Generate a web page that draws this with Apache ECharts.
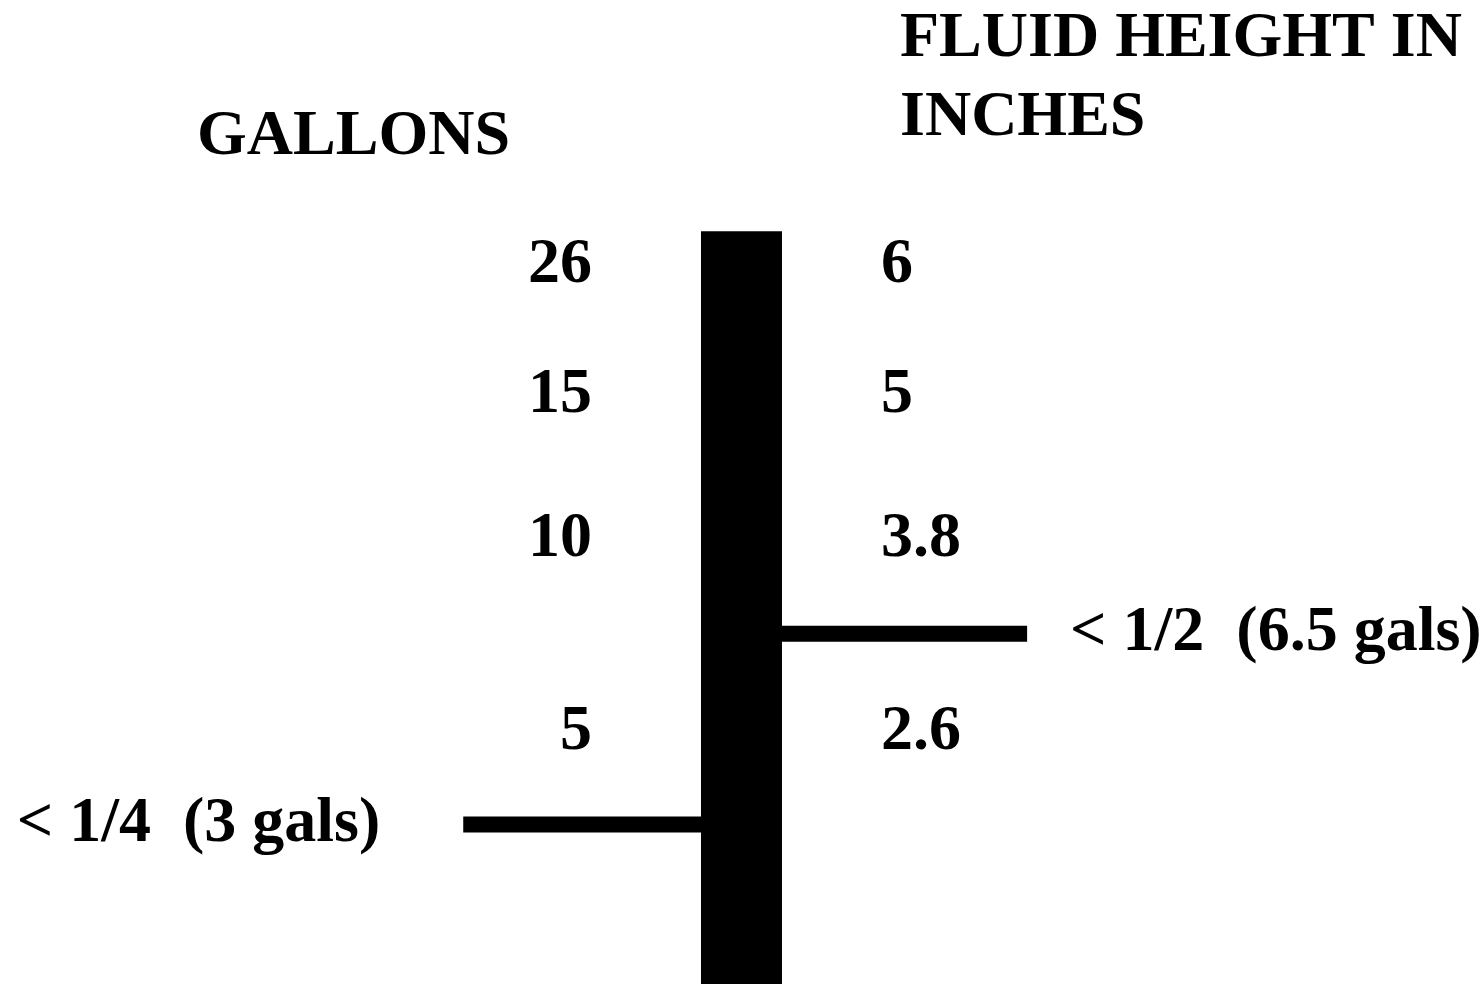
<!DOCTYPE html>
<html>
<head>
<meta charset="utf-8">
<script src="https://cdn.jsdelivr.net/npm/echarts@6/dist/echarts.min.js"></script>
<style>
html,body{margin:0;padding:0;background:#fff;}
#chart{width:1480px;height:984px;}
</style>
</head>
<body>
<div id="chart"></div>
<script>
// Positions along the gauge (arbitrary 0-100 units, bottom of stick = 0)
const gallonLabels = ['26', '15', '10', '5'];
const inchLabels = ['6', '5', '3.8', '2.6'];
const levelPos = [73.0, 59.8, 45.2, 25.6];

const stickX = 50.1;
const stickTop = 76.5;
const stickBottom = 0;

const markerLabels = ['< 1/4  (3 gals)', '< 1/2  (6.5 gals)'];
const markerPos = [16.2, 35.6];
const markerFrom = [31.3, 50.1];
const markerTo = [50.1, 69.4];
const markerSide = ['left', 'right'];

const gallonColX = 40.0;
const inchColX = 59.53;

const FONT = 'Liberation Serif';
const textBase = { fontFamily: FONT, fontWeight: 'bold', fontSize: 64, color: '#000', opacity: 1, textBorderWidth: 0 };

const series = [];
series.push({
  type: 'line', name: 'stick',
  data: [[stickX, stickBottom], [stickX, stickTop]],
  symbol: 'none', z: 5, silent: true,
  lineStyle: { color: '#000', width: 81, cap: 'butt' }
});
markerPos.forEach((y, i) => {
  series.push({
    type: 'line', name: 'marker' + i,
    data: [[markerFrom[i], y], [markerTo[i], y]],
    symbol: 'none', z: 4, silent: true,
    lineStyle: { color: '#000', width: 16, cap: 'butt' }
  });
});
function labelSeries(name, items) {
  return {
    type: 'scatter', name: name, symbolSize: 0, silent: true,
    itemStyle: { opacity: 1, color: '#000' },
    data: items,
    label: Object.assign({ show: true }, textBase)
  };
}
series.push(labelSeries('gallons', levelPos.map((y, i) => ({
  value: [gallonColX, y],
  label: Object.assign({ formatter: gallonLabels[i], position: 'left', distance: 0 }, textBase)
}))));
series.push(labelSeries('inches', levelPos.map((y, i) => ({
  value: [inchColX, y],
  label: Object.assign({ formatter: inchLabels[i], position: 'right', distance: 0 }, textBase)
}))));
series.push(labelSeries('markers', markerPos.map((y, i) => ({
  value: [markerSide[i] === 'left' ? markerFrom[i] : markerTo[i], y],
  label: Object.assign({ formatter: markerLabels[i], position: markerSide[i], distance: markerSide[i] === 'left' ? 83 : 43 }, textBase)
}))));

const titleStyle = Object.assign({}, textBase, { lineHeight: 64 });
const chart = echarts.init(document.getElementById('chart'));
chart.setOption({
  animation: false,
  backgroundColor: '#fff',
  title: [
    { text: 'GALLONS', left: 197, top: 105, padding: 0, textStyle: titleStyle },
    { text: 'FLUID HEIGHT IN', left: 900, top: 7, padding: 0, textStyle: titleStyle },
    { text: 'INCHES', left: 900, top: 86, padding: 0, textStyle: titleStyle }
  ],
  grid: { left: 0, right: 0, top: 0, bottom: 0 },
  xAxis: { type: 'value', min: 0, max: 100, show: false },
  yAxis: { type: 'value', min: 0, max: 100, show: false },
  series: series
});
</script>
</body>
</html>
